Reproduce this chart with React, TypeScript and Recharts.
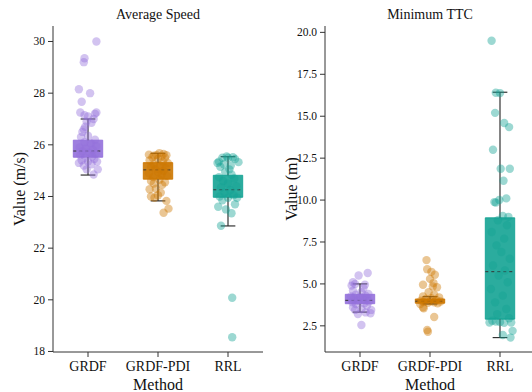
import React from 'react';
import { ComposedChart, Scatter, XAxis, YAxis, ReferenceArea, ReferenceLine } from 'recharts';

const methods = ['GRDF', 'GRDF-PDI', 'RRL'];
const boxColors = ['#9370DB', '#CC7700', '#14A394'];

// points as [jitter, value]
const speedGRDF = [
  [0.12, 30.0], [-0.05, 29.35], [-0.06, 29.2], [-0.13, 28.15], [0.03, 28.0], [-0.09, 27.67],
  [-0.11, 27.25], [0.12, 27.25], [0.1, 27.2], [-0.05, 27.15], [0.0, 27.1], [0.08, 27.0],
  [-0.02, 26.9], [0.05, 26.85], [-0.04, 26.7], [-0.06, 26.6], [-0.08, 26.5], [0.0, 26.35],
  [-0.1, 26.3], [0.1, 26.2], [-0.05, 26.1], [0.04, 26.05], [0.12, 25.95], [-0.12, 25.9],
  [-0.03, 25.85], [0.07, 25.8], [-0.08, 25.75], [0.02, 25.7], [0.11, 25.65], [-0.11, 25.6],
  [0.06, 25.55], [-0.04, 25.5], [0.09, 25.45], [-0.09, 25.4], [0.0, 25.35], [0.13, 25.35],
  [-0.13, 25.3], [0.05, 25.25], [-0.06, 25.2], [0.14, 25.05], [-0.02, 25.05], [0.08, 24.85],
];
const speedPDI = [
  [0.08, 23.37], [0.15, 23.53], [0.12, 23.83], [-0.1, 24.0], [-0.05, 23.95], [0.0, 24.05],
  [-0.12, 24.28], [0.04, 24.15], [-0.03, 24.3], [0.06, 24.45], [-0.06, 24.5], [0.1, 24.55],
  [-0.1, 24.6], [0.02, 24.65], [-0.07, 24.75], [0.13, 24.8], [0.05, 24.85], [-0.13, 24.9],
  [0.0, 24.95], [0.08, 25.0], [-0.04, 25.05], [0.11, 25.1], [-0.1, 25.15], [0.03, 25.2],
  [-0.06, 25.25], [0.14, 25.3], [0.07, 25.35], [-0.12, 25.4], [0.0, 25.45], [0.1, 25.5],
  [-0.08, 25.52], [0.05, 25.55], [-0.02, 25.6], [0.12, 25.6], [-0.13, 25.62], [0.08, 25.65],
  [0.02, 25.68], [-0.06, 25.58],
];
const speedRRL = [
  [0.06, 18.55], [0.06, 20.08], [-0.1, 22.87], [0.05, 23.35], [-0.14, 23.6], [-0.03, 23.5],
  [0.1, 23.7], [-0.08, 23.85], [0.0, 23.95], [0.13, 23.95], [-0.12, 24.0], [0.08, 24.05],
  [-0.05, 24.15], [0.03, 24.25], [-0.1, 24.35], [0.12, 24.4], [0.0, 24.5], [-0.07, 24.6],
  [0.09, 24.7], [-0.13, 24.75], [0.05, 24.85], [-0.04, 24.95], [0.02, 25.05], [-0.11, 25.15],
  [-0.06, 25.25], [0.15, 25.33], [-0.13, 25.35], [0.1, 25.45], [-0.08, 25.5], [0.0, 25.5],
  [-0.02, 25.55], [0.07, 25.52], [-0.15, 25.3], [0.04, 25.2],
];
const ttcGRDF = [
  [0.11, 5.65], [-0.02, 5.5], [-0.1, 5.1], [-0.07, 5.0], [0.07, 4.95], [-0.12, 4.9],
  [0.05, 4.75], [-0.1, 4.6], [0.02, 4.5], [0.12, 4.4], [-0.06, 4.35], [0.08, 4.3],
  [-0.13, 4.25], [0.0, 4.2], [0.1, 4.15], [-0.09, 4.1], [0.04, 4.05], [-0.03, 4.0],
  [0.13, 3.95], [-0.11, 3.9], [0.06, 3.85], [-0.06, 3.8], [0.1, 3.7], [-0.1, 3.6],
  [0.02, 3.5], [0.16, 3.45], [-0.07, 3.45], [0.08, 3.3], [0.15, 3.25], [-0.03, 3.2], [0.02, 2.55],
];
const ttcPDI = [
  [-0.05, 6.42], [-0.04, 5.88], [0.02, 5.72], [0.07, 5.55], [0.0, 5.3], [0.05, 5.05],
  [-0.1, 4.95], [0.04, 4.85], [0.1, 4.8], [-0.02, 4.5], [0.06, 4.35], [-0.1, 4.25],
  [0.13, 4.2], [0.02, 4.15], [-0.06, 4.1], [0.09, 4.05], [-0.13, 4.0], [0.0, 3.98],
  [0.15, 3.95], [-0.09, 3.92], [0.06, 3.9], [-0.03, 3.88], [0.11, 3.85], [-0.14, 3.8],
  [-0.1, 3.6], [-0.09, 3.55], [0.06, 3.03], [-0.04, 2.25], [-0.03, 2.15],
];
const ttcRRL = [
  [-0.12, 19.5], [-0.06, 16.4], [0.0, 16.38], [-0.07, 15.2], [0.06, 14.6], [0.13, 14.35],
  [-0.1, 13.0], [0.01, 11.87], [0.14, 11.87], [0.05, 11.15], [0.09, 10.1], [-0.01, 10.0],
  [-0.08, 9.88], [-0.06, 9.85], [0.04, 9.05], [0.12, 9.0], [-0.03, 8.8], [0.1, 8.5],
  [-0.12, 8.1], [0.06, 7.7], [-0.05, 7.3], [0.02, 6.9], [0.14, 6.5], [-0.1, 6.1],
  [0.07, 5.8], [-0.02, 5.5], [0.11, 5.1], [-0.13, 4.7], [0.04, 4.3], [-0.07, 3.9],
  [0.09, 3.5], [-0.04, 3.2], [0.13, 2.95], [-0.11, 2.8], [-0.15, 2.7], [0.0, 2.72],
  [0.06, 2.68], [-0.06, 2.75], [0.16, 2.7], [0.18, 2.2], [0.15, 1.8], [0.04, 1.95],
];

// [lower whisker, q1, median, q3, upper whisker]
const speedBoxes = [
  [24.83, 25.52, 25.76, 26.18, 27.0],
  [23.83, 24.67, 25.03, 25.31, 25.67],
  [22.86, 23.97, 24.26, 24.82, 25.54],
];
const ttcBoxes = [
  [3.32, 3.82, 4.02, 4.38, 5.0],
  [3.8, 3.85, 3.97, 4.1, 4.24],
  [1.8, 2.9, 5.73, 8.94, 16.43],
];

const speedTicks = [18, 20, 22, 24, 26, 28, 30];
const ttcTicks = [2.5, 5.0, 7.5, 10.0, 12.5, 15.0, 17.5, 20.0];

const FONT = "'Liberation Serif', 'DejaVu Serif', serif";
const AX = '#333';

const XTick = (p: any) => (
  <text x={p.x} y={p.y + 11} textAnchor="middle" fontSize={14} fontFamily={FONT} fill="#111">
    {methods[p.payload.value]}
  </text>
);

const makeYTick = (fmt: (v: number) => string) => (p: any) => (
  <text x={p.x} y={p.y + 4} textAnchor="end" fontSize={11.5} fontFamily={FONT} fill="#111">
    {fmt(p.payload.value)}
  </text>
);

type PanelProps = {
  title: string;
  yLabel: string;
  domain: [number, number];
  ticks: number[];
  fmt: (v: number) => string;
  groups: number[][][];
  boxes: number[][];
  left: number;
};

const Panel = ({ title, yLabel, domain, ticks, fmt, groups, boxes, left }: PanelProps) => {
  const halfBox = 0.21;
  const halfCap = 0.105;
  return (
    <div style={{ position: 'absolute', left, top: 0, width: 270, height: 392 }}>
      <div style={{ position: 'absolute', left: 53, width: 210, top: 7, textAlign: 'center', fontSize: 14, color: '#111' }}>
        {title}
      </div>
      <div
        style={{
          position: 'absolute', left: 20, top: 189, fontSize: 16, color: '#111', whiteSpace: 'nowrap',
          transform: 'translate(-50%, -50%) rotate(-90deg)',
        }}
      >
        {yLabel}
      </div>
      <div style={{ position: 'absolute', left: 53, width: 210, top: 376, textAlign: 'center', fontSize: 16, lineHeight: '18px', color: '#111' }}>
        Method
      </div>
      <ComposedChart width={270} height={392} margin={{ top: 26, right: 7, bottom: 10, left: 0 }}>
        <XAxis
          type="number"
          dataKey="x"
          domain={[-0.5, 2.5]}
          ticks={[0, 1, 2]}
          allowDataOverflow
          height={30}
          stroke={AX}
          tickSize={5}
          tickMargin={3}
          tick={XTick}
        />
        <XAxis xAxisId="top" orientation="top" type="number" domain={[-0.5, 2.5]} tick={false} tickLine={false} height={0} stroke={AX} />
        <YAxis
          type="number"
          dataKey="y"
          domain={domain}
          ticks={ticks}
          allowDataOverflow
          width={53}
          stroke={AX}
          tickSize={5}
          tickMargin={3}
          tick={makeYTick(fmt)}
        />
        <YAxis yAxisId="right" orientation="right" type="number" domain={domain} tick={false} tickLine={false} width={0} stroke={AX} />
        {boxes.map((b, i) => (
          <ReferenceArea
            key={'box' + i}
            x1={i - halfBox}
            x2={i + halfBox}
            y1={b[1]}
            y2={b[3]}
            fill={boxColors[i]}
            fillOpacity={0.9}
            stroke={boxColors[i]}
            strokeOpacity={0.9}
          />
        ))}
        {groups.map((g, i) => (
          <Scatter
            key={'pts' + i}
            data={g.map(([j, v]) => ({ x: i + j, y: v }))}
            isAnimationActive={false}
            shape={(p: any) => <circle cx={p.cx} cy={p.cy} r={4.2} fill={boxColors[i]} fillOpacity={0.42} />}
          />
        ))}
        {boxes.map((b, i) => (
          <ReferenceLine key={'wl' + i} segment={[{ x: i, y: b[0] }, { x: i, y: b[1] }]} stroke={AX} strokeWidth={1.2} />
        ))}
        {boxes.map((b, i) => (
          <ReferenceLine key={'wh' + i} segment={[{ x: i, y: b[3] }, { x: i, y: b[4] }]} stroke={AX} strokeWidth={1.2} />
        ))}
        {boxes.map((b, i) => (
          <ReferenceLine key={'cl' + i} segment={[{ x: i - halfCap, y: b[0] }, { x: i + halfCap, y: b[0] }]} stroke={AX} strokeWidth={1.2} />
        ))}
        {boxes.map((b, i) => (
          <ReferenceLine key={'ch' + i} segment={[{ x: i - halfCap, y: b[4] }, { x: i + halfCap, y: b[4] }]} stroke={AX} strokeWidth={1.2} />
        ))}
        {boxes.map((b, i) => (
          <ReferenceLine
            key={'md' + i}
            segment={[{ x: i - halfBox, y: b[2] }, { x: i + halfBox, y: b[2] }]}
            stroke={AX}
            strokeWidth={1}
            strokeDasharray="3 3"
          />
        ))}
      </ComposedChart>
    </div>
  );
};

export default function App() {
  return (
    <div
      style={{
        position: 'absolute', left: 0, top: 0, width: 532, height: 392, overflow: 'hidden',
        background: '#fff', fontFamily: FONT,
      }}
    >
      <Panel
        title="Average Speed"
        yLabel="Value (m/s)"
        domain={[17.98, 30.6]}
        ticks={speedTicks}
        fmt={(v) => String(v)}
        groups={[speedGRDF, speedPDI, speedRRL]}
        boxes={speedBoxes}
        left={0}
      />
      <Panel
        title="Minimum TTC"
        yLabel="Value (m)"
        domain={[0.94, 20.38]}
        ticks={ttcTicks}
        fmt={(v) => v.toFixed(1)}
        groups={[ttcGRDF, ttcPDI, ttcRRL]}
        boxes={ttcBoxes}
        left={272}
      />
    </div>
  );
}
